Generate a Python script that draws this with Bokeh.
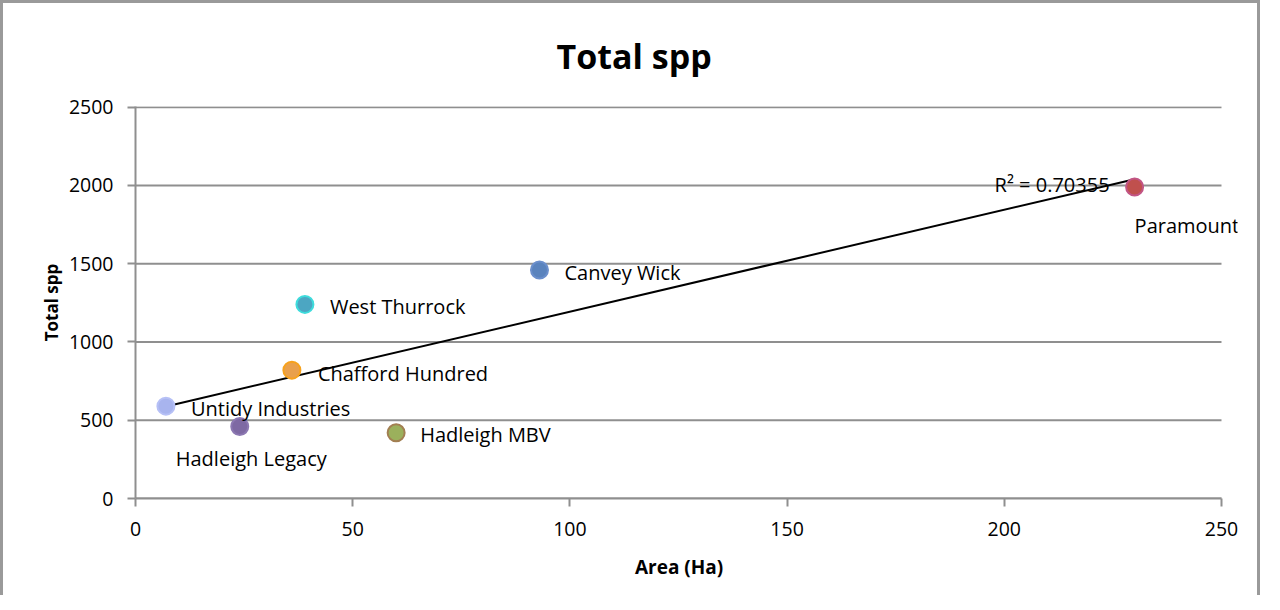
import numpy as np
from bokeh.plotting import figure
from bokeh.models import ColumnDataSource, Range1d, FixedTicker, Label
from bokeh.embed import file_html
from bokeh.resources import INLINE

# ---- data ----
sites = ["Untidy Industries", "Hadleigh Legacy", "Chafford Hundred", "West Thurrock",
         "Hadleigh MBV", "Canvey Wick", "Paramount"]
area_ha = [7, 24, 36, 39, 60, 93, 230]
total_spp = [590, 460, 820, 1240, 420, 1460, 1990]
x_ticks = [0, 50, 100, 150, 200, 250]
y_ticks = [0, 500, 1000, 1500, 2000, 2500]
r2_text = "R² = 0.70355"

# ---- styles ----
fill_colors = ["#a8b4ee", "#7e69a3", "#e9a04c", "#4ca6c2", "#9bb05c", "#5a83bd", "#c0504d"]
line_colors = ["#b6c0f6", "#8c78b2", "#f7a21c", "#3edcdc", "#a27f52", "#6b8fcc", "#c25585"]
label_dx = [25, -64, 26, 25, 24, 25, 0]
label_dy = [-2, -32, -3, -2, -2, -3, -39]   # screen px, positive = up
FONT = "Open Sans"
GRID = "#8f8f8f"

X_MAX = x_ticks[-1]
# plot frame extends ~16px past the last tick so the "Paramount" label is not clipped
X_PAD = X_MAX * 16 / 1085.0

src = ColumnDataSource(dict(x=area_ha, y=total_spp, fc=fill_colors, lc=line_colors))

p = figure(width=1260, height=595, output_backend="svg", toolbar_location=None,
           x_range=Range1d(0, X_MAX + X_PAD), y_range=Range1d(0, 2504),
           min_border_left=132, min_border_right=26, min_border_top=102, min_border_bottom=100,
           title="Total spp")
p.styles = {"border-left": "3px solid #9a9a9a", "border-top": "3px solid #9a9a9a",
            "border-right": "3px solid #9a9a9a"}
p.outline_line_color = None
p.background_fill_color = "white"
p.border_fill_color = "white"

p.title.text_font = FONT
p.title.text_font_size = "34px"
p.title.text_font_style = "bold"
p.title.text_color = "black"
p.title.align = "left"
p.title.offset = 421
p.title.standoff = 55

for ax, ticks in ((p.xaxis[0], x_ticks), (p.yaxis[0], y_ticks)):
    ax.ticker = FixedTicker(ticks=ticks)
    ax.axis_line_color = GRID
    ax.axis_line_width = 2
    ax.major_tick_line_color = GRID
    ax.major_tick_line_width = 2
    ax.major_tick_out = 8
    ax.major_tick_in = 0
    ax.minor_tick_line_color = None
    ax.major_label_text_font = FONT
    ax.major_label_text_font_size = "19.5px"
    ax.major_label_text_color = "black"
    ax.axis_label_text_font = FONT
    ax.axis_label_text_font_style = "bold"
    ax.axis_label_text_color = "black"

p.xaxis.bounds = (0, X_MAX)
p.xaxis.axis_label = "Area (Ha)\u00a0\u00a0\u00a0"
p.yaxis.axis_label = "Total spp"
p.xaxis.axis_label_text_font_size = "19px"
p.yaxis.axis_label_text_font_size = "17px"
p.xaxis.major_label_standoff = 15
p.xaxis.axis_label_standoff = 15
p.yaxis.major_label_standoff = 14
p.yaxis.axis_label_standoff = 3

# horizontal gridlines only across 0..250
p.xgrid.grid_line_color = None
p.ygrid.grid_line_color = None
p.segment(x0=[0] * len(y_ticks), x1=[X_MAX] * len(y_ticks), y0=y_ticks, y1=y_ticks,
          line_color=GRID, line_width=2)

# trend line (least squares)
slope, intercept = np.polyfit(area_ha, total_spp, 1)
tx = [min(area_ha), max(area_ha)]
ty = [slope * v + intercept for v in tx]
p.line(tx, ty, line_color="black", line_width=2)

p.scatter("x", "y", source=src, size=17, fill_color="fc", line_color="lc", line_width=2)

for sx, sy, name, dx, dy in zip(area_ha, total_spp, sites, label_dx, label_dy):
    p.add_layout(Label(x=sx, y=sy, text=name, x_offset=dx, y_offset=dy,
                       text_font=FONT, text_font_size="20px", text_color="black",
                       text_align="left", text_baseline="middle"))

p.add_layout(Label(x=tx[1], y=ty[1], text=r2_text, x_offset=-25, y_offset=-5,
                   text_font=FONT, text_font_size="20px", text_color="black",
                   text_align="right", text_baseline="middle"))

open("out.html", "w").write(file_html(p, INLINE))
